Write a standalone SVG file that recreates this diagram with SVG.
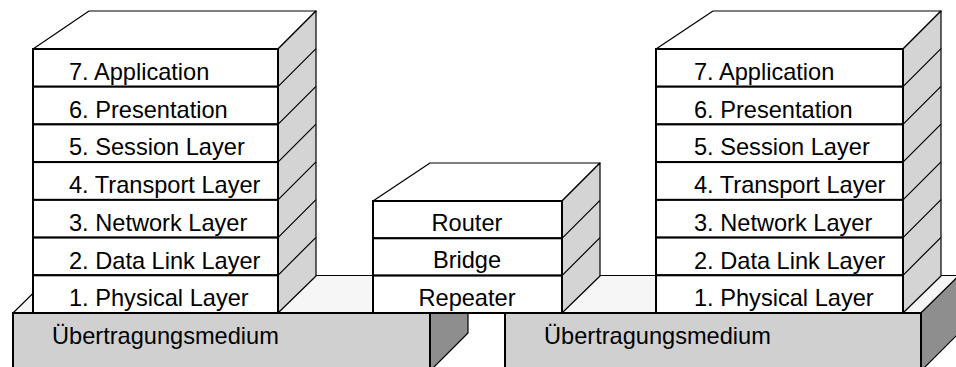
<svg xmlns="http://www.w3.org/2000/svg" width="956" height="367" viewBox="0 0 956 367">
  <style>
    .front { fill: #ffffff; stroke: #000000; stroke-width: 2; }
    .top { fill: #ffffff; stroke: #000000; stroke-width: 1.2; stroke-linejoin: round; }
    .side { fill: #d4d4d4; stroke: #000000; stroke-width: 1.2; stroke-linejoin: round; }
    .edge { stroke: #000000; stroke-width: 1.2; fill: none; }
    .bfront { fill: #d0d0d0; stroke: #000000; stroke-width: 2; }
    .btop { fill: #f6f6f6; stroke: #000000; stroke-width: 1.2; }
    .bside { fill: #8e8e8e; stroke: #000000; stroke-width: 1.2; }
    text { font-family: "Liberation Sans", Arial, sans-serif; font-size: 23.6px; fill: #000000; }
    .c { text-anchor: middle; }
  </style>

  <!-- transmission medium, left slab -->
  <g id="medium-left">
    <polygon class="btop" points="13,313 51,275.5 468,275.5 430,313"/>
    <polygon class="bside" points="430,313 468,275.5 468,333 430,371"/>
    <rect class="bfront" x="13" y="313" width="417" height="60"/>
    <text x="52" y="344">Übertragungsmedium</text>
  </g>

  <!-- transmission medium, right slab -->
  <g id="medium-right">
    <polygon class="btop" points="505,313 543,275.5 960,275.5 921,313"/>
    <polygon class="bside" points="921,313 959,275.5 959,333 921,371"/>
    <rect class="bfront" x="505" y="313" width="416" height="60"/>
    <text x="544" y="344">Übertragungsmedium</text>
  </g>

  <!-- left end system: seven OSI layers -->
  <g id="stack-left">
    <polygon class="top" points="33,49 89,11 316,11 278,49"/>
    <polygon class="side" points="278,49 316,11 316,276 278,313"/>
    <path class="edge" d="M278,86.7 L316,48.7 M278,124.4 L316,86.4 M278,162.1 L316,124.1 M278,199.9 L316,161.9 M278,237.6 L316,199.6 M278,275.3 L316,237.3"/>
    <rect class="front" x="33" y="49" width="245" height="37.7"/>
    <rect class="front" x="33" y="86.7" width="245" height="37.7"/>
    <rect class="front" x="33" y="124.4" width="245" height="37.7"/>
    <rect class="front" x="33" y="162.1" width="245" height="37.8"/>
    <rect class="front" x="33" y="199.9" width="245" height="37.7"/>
    <rect class="front" x="33" y="237.6" width="245" height="37.7"/>
    <rect class="front" x="33" y="275.3" width="245" height="37.7"/>
    <text x="69" y="80">7. Application</text>
    <text x="69" y="117.7">6. Presentation</text>
    <text x="69" y="155.4">5. Session Layer</text>
    <text x="69" y="193.1">4. Transport Layer</text>
    <text x="69" y="230.9">3. Network Layer</text>
    <text x="69" y="268.6">2. Data Link Layer</text>
    <text x="69" y="306.3">1. Physical Layer</text>
  </g>

  <!-- intermediate system: coupling devices -->
  <g id="stack-middle">
    <polygon class="top" points="373,201 430,163 600,163 562,201"/>
    <polygon class="side" points="562,201 600,163 600,276 562,313"/>
    <path class="edge" d="M562,238.3 L600,200.3 M562,275.6 L600,237.6"/>
    <rect class="front" x="373" y="201" width="189" height="37.3"/>
    <rect class="front" x="373" y="238.3" width="189" height="37.3"/>
    <rect class="front" x="373" y="275.6" width="189" height="37.4"/>
    <text class="c" x="467" y="231">Router</text>
    <text class="c" x="467" y="268.3">Bridge</text>
    <text class="c" x="467" y="306.3">Repeater</text>
  </g>

  <!-- right end system: seven OSI layers -->
  <g id="stack-right">
    <polygon class="top" points="656,49 713,11 941,11 903,49"/>
    <polygon class="side" points="903,49 941,11 941,276 903,313"/>
    <path class="edge" d="M903,86.7 L941,48.7 M903,124.4 L941,86.4 M903,162.1 L941,124.1 M903,199.9 L941,161.9 M903,237.6 L941,199.6 M903,275.3 L941,237.3"/>
    <rect class="front" x="656" y="49" width="247" height="37.7"/>
    <rect class="front" x="656" y="86.7" width="247" height="37.7"/>
    <rect class="front" x="656" y="124.4" width="247" height="37.7"/>
    <rect class="front" x="656" y="162.1" width="247" height="37.8"/>
    <rect class="front" x="656" y="199.9" width="247" height="37.7"/>
    <rect class="front" x="656" y="237.6" width="247" height="37.7"/>
    <rect class="front" x="656" y="275.3" width="247" height="37.7"/>
    <text x="694" y="80">7. Application</text>
    <text x="694" y="117.7">6. Presentation</text>
    <text x="694" y="155.4">5. Session Layer</text>
    <text x="694" y="193.1">4. Transport Layer</text>
    <text x="694" y="230.9">3. Network Layer</text>
    <text x="694" y="268.6">2. Data Link Layer</text>
    <text x="694" y="306.3">1. Physical Layer</text>
  </g>

  <!-- no connectors: the systems stand on the shared medium -->
  <g id="connectors"/>
</svg>
